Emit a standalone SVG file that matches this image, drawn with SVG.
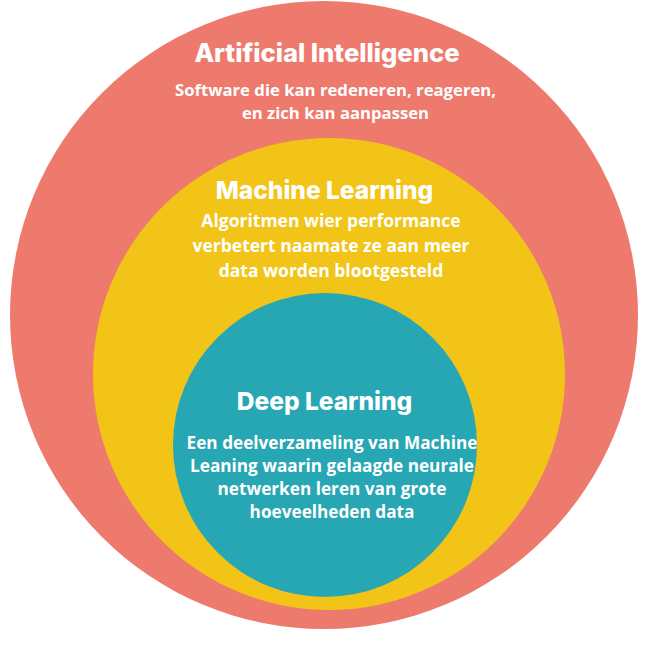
<svg xmlns="http://www.w3.org/2000/svg" width="648" height="648" viewBox="0 0 648 648">
<style>
.t{font-family:Inter,"Open Sans","Liberation Sans",sans-serif;font-weight:800;font-size:24.5px;fill:#fff;text-anchor:middle}
.b{font-family:"Open Sans","Liberation Sans",sans-serif;font-weight:700;font-size:17.2px;fill:#fff;text-anchor:middle}
</style>
<rect width="648" height="648" fill="#fff"/>
<g id="ai">
<circle cx="324" cy="315" r="314" fill="#EE7A6E"/>
<text class="t" x="327" y="62" style="font-size:25.6px">Artificial Intelligence</text>
<text class="b" x="335.5" y="96" style="font-size:16.7px">Software die kan redeneren, reageren,</text>
<text class="b" x="335.5" y="119" style="font-size:16.7px">en zich kan aanpassen</text>
</g>
<g id="ml">
<circle cx="329" cy="374" r="236" fill="#F2C418"/>
<text class="t" x="324.5" y="199">Machine Learning</text>
<text class="b" x="331" y="227" style="font-size:17.5px">Algoritmen wier performance</text>
<text class="b" x="331" y="252" style="font-size:17.5px">verbetert naamate ze aan meer</text>
<text class="b" x="331" y="277" style="font-size:17.5px">data worden blootgesteld</text>
</g>
<g id="dl">
<circle cx="325" cy="445" r="152" fill="#27A6B4"/>
<text class="t" x="324.5" y="410">Deep Learning</text>
<text class="b" x="332" y="449">Een deelverzameling van Machine</text>
<text class="b" x="332" y="472">Leaning waarin gelaagde neurale</text>
<text class="b" x="332" y="495">netwerken leren van grote</text>
<text class="b" x="332" y="518">hoeveelheden data</text>
</g>
<g id="connectors"/>
</svg>
